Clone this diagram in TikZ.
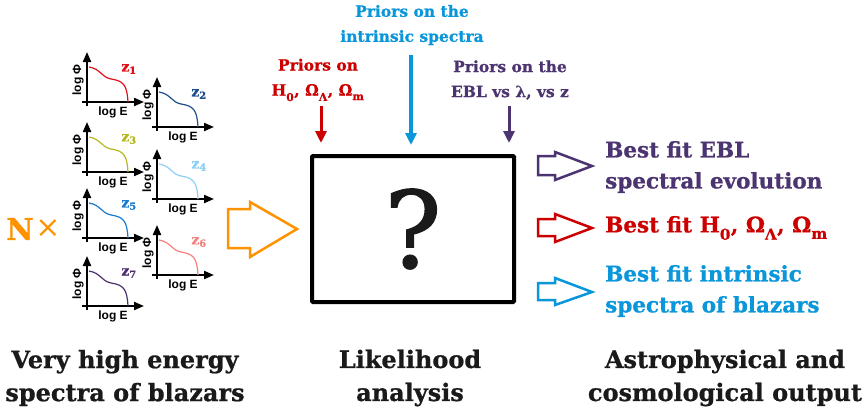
\documentclass[tikz,border=0pt]{standalone}
\usepackage{fontspec}
\setmainfont{DejaVu Serif}
\newfontfamily\heavy[FakeBold=0.8]{DejaVu Serif Bold}
\newfontfamily\plotfont{Liberation Sans}
\newfontfamily\qfont[FakeBold=1.5]{DejaVu Serif}
\usetikzlibrary{arrows.meta}
\definecolor{corange}{HTML}{FF9200}
\definecolor{cred}{HTML}{CC0000}
\definecolor{cblue}{HTML}{0A96DA}
\definecolor{cpurple}{HTML}{4B3470}
\definecolor{ctext}{HTML}{1A1A1A}
\definecolor{cz1}{HTML}{E0101A}
\definecolor{cz2}{HTML}{1F4E8C}
\definecolor{cz3}{HTML}{B5B820}
\definecolor{cz4}{HTML}{8FCFF5}
\definecolor{cz5}{HTML}{1A7AD0}
\definecolor{cz6}{HTML}{F58080}
\definecolor{cz7}{HTML}{4B3070}
\newcommand\lowsub[1]{\raisebox{-0.3ex}{\textsubscript{#1}}}
\tikzset{
  axisline/.style={line width=2pt,-{Triangle[width=8pt,length=10pt]}},
  plotlab/.style={font=\plotfont\bfseries\fontsize{12}{12}\selectfont,inner sep=0pt},
  zlab/.style={font=\heavy\fontsize{14}{14}\selectfont,inner sep=0pt},
  hollow/.style={line width=2.5pt,line join=miter},
  toplab/.style={font=\heavy\fontsize{15.5}{25}\selectfont,align=center,inner sep=0pt},
  outlab/.style={font=\heavy\fontsize{21.5}{31}\selectfont,align=left,anchor=west,inner sep=0pt},
  botlab/.style={font=\heavy\fontsize{24}{33}\selectfont,align=center,inner sep=0pt,text=ctext},
  downarrow/.style={line width=3pt,-{Triangle[width=11pt,length=12pt]}},
}
\begin{document}
\begin{tikzpicture}[x=1pt,y=-1pt]
\useasboundingbox[fill=white] (0,0) rectangle (868,413);

% mini plots
\foreach \i/\ox/\oy/\col in {1/87/102/cz1,2/157/127/cz2,3/87/172/cz3,4/157/199/cz4,5/87/238/cz5,6/157/275/cz6,7/87/306/cz7}{
  \begin{scope}[shift={(\ox,\oy)}]
    \draw[axisline] (-5,0) -- (57,0);
    \draw[axisline] (0,4) -- (0,-50);
    \node[plotlab] (lx\i) at (26,10) {log E};
    \node[plotlab,rotate=90] (ly\i) at (-9,-22) {log Φ};
    \draw[\col,line width=1.2pt] (2,-35) .. controls (14,-33) and (14,-25) .. (24,-23) .. controls (36,-21) and (40,-18) .. (41,0);
    \node[zlab,text=\col] (z\i) at (42,-33) {z\textsubscript{\i}};
  \end{scope}
}

% N x
\node[font=\heavy\fontsize{30}{30}\selectfont,text=corange,inner sep=0pt] (N) at (20,229) {N};
\node[font=\fontsize{30}{30}\selectfont,text=corange,inner sep=0pt] (times) at (48,229) {×};

% orange hollow arrow
\draw[hollow,corange] (228,209) -- (250,209) -- (250,202) -- (297,229) -- (250,257) -- (250,248) -- (228,248) -- cycle;

% central box
\node[draw=black,line width=4pt,rounded corners=1pt,minimum width=202pt,minimum height=146pt,inner sep=0pt,font=\qfont\fontsize{106}{106}\selectfont,text=ctext] (box) at (413,229) {?};

% top labels
\node[toplab,text=cblue] (pintr) at (412,25) {Priors on the\\intrinsic spectra};
\node[toplab,text=cred] (pcosmo) at (318,80) {Priors on\\H\lowsub{0}, Ω\lowsub{Λ}, Ω\lowsub{m}};
\node[toplab,text=cpurple] (pebl) at (510,80) {Priors on the\\EBL vs λ, vs z};

\coordinate (rb) at (321,106); \coordinate (re) at (321,143);
\coordinate (bb) at (411,55);  \coordinate (be) at (411,145);
\coordinate (pb) at (509,106); \coordinate (pe) at (509,143);
\draw[downarrow,cred] (rb) -- (re);
\draw[downarrow,cblue,line width=4pt] (bb) -- (be);
\draw[downarrow,cpurple] (pb) -- (pe);

% right hollow arrows
\draw[hollow,cpurple] (538,156) -- (555,156) -- (555,152) -- (592,166) -- (555,180) -- (555,175) -- (538,175) -- cycle;
\draw[hollow,cred] (538,219) -- (555,219) -- (555,214) -- (592,228) -- (555,242) -- (555,236) -- (538,236) -- cycle;
\draw[hollow,cblue] (538,283) -- (555,283) -- (555,278) -- (592,292) -- (555,305) -- (555,300) -- (538,300) -- cycle;

% outputs
\node[outlab,text=cpurple] (oebl) at (605,167) {Best fit EBL\\spectral evolution};
\node[outlab,text=cred] (ocosmo) at (605,228) {Best fit H\lowsub{0}, Ω\lowsub{Λ}, Ω\lowsub{m}};
\node[outlab,text=cblue] (ointr) at (605,291) {Best fit intrinsic\\spectra of blazars};

% bottom labels
\node[botlab] (b1) at (125,378) {Very high energy\\spectra of blazars};
\node[botlab] (b2) at (410,378) {Likelihood\\analysis};
\node[botlab] (b3) at (725,378) {Astrophysical and\\cosmological output};
\end{tikzpicture}
\end{document}
